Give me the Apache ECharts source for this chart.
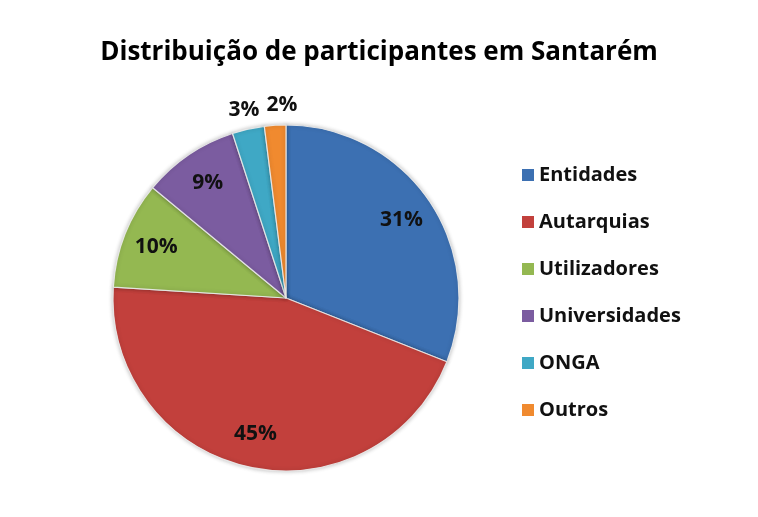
<!DOCTYPE html>
<html>
<head>
<meta charset="utf-8">
<script src="https://cdn.jsdelivr.net/npm/echarts@6/dist/echarts.min.js"></script>
<style>
  html, body { margin: 0; padding: 0; background: #fff; }
  #main { width: 758px; height: 517px; }
</style>
</head>
<body>
<div id="main"></div>
<script>
// dados
var categorias = ['Entidades', 'Autarquias', 'Utilizadores', 'Universidades', 'ONGA', 'Outros'];
var valores = [31, 45, 10, 9, 3, 2];
var cores = ['#3C70B2', '#C2403C', '#94B851', '#7B5CA0', '#3FA8C5', '#F08A2F'];

var chart = echarts.init(document.getElementById('main'));

var fonte = '"Open Sans", Lato, sans-serif';
var centro = [286, 298];

function dados(transparente) {
    var arr = [];
    for (var i = 0; i < categorias.length; i++) {
        arr.push({
            name: categorias[i],
            value: valores[i],
            itemStyle: transparente ? { color: 'rgba(0,0,0,0)', borderWidth: 0 } : { color: cores[i] }
        });
    }
    return arr;
}

// rótulos dentro (fatias grandes) e fora (pequenas)
function dadosRotulos(grande) {
    var arr = dados(true);
    for (var i = 0; i < arr.length; i++) {
        arr[i].label = { show: grande ? valores[i] >= 5 : valores[i] < 5 };
    }
    // o rótulo "2%" fica um pouco à direita no original
    if (!grande) arr[5].label.offset = [8, 0];
    return arr;
}

var rotulo = {
    position: 'inside',
    formatter: '{c}%',
    color: '#111',
    fontFamily: fonte,
    fontWeight: 'bold',
    fontSize: 21
};

chart.setOption({
    backgroundColor: '#fff',
    title: {
        text: 'Distribuição de participantes em Santarém',
        left: 'center',
        top: 35,
        textStyle: {
            fontFamily: fonte,
            fontWeight: 'bold',
            fontSize: 26,
            color: '#000'
        }
    },
    legend: {
        orient: 'vertical',
        left: 517,
        top: 160,
        itemWidth: 12,
        itemHeight: 12,
        itemGap: 27,
        itemStyle: { borderWidth: 0 },
        icon: 'rect',
        data: categorias,
        textStyle: {
            fontFamily: fonte,
            fontWeight: 'bold',
            fontSize: 20,
            lineHeight: 20,
            color: '#111'
        }
    },
    color: cores,
    series: [{
        name: 'Participantes',
        type: 'pie',
        center: centro,
        radius: 173,
        startAngle: 90,
        clockwise: true,
        silent: true,
        label: { show: false },
        labelLine: { show: false },
        itemStyle: {
            borderColor: 'rgba(235,235,235,0.9)',
            borderWidth: 1.2,
            shadowBlur: 4,
            shadowColor: 'rgba(0,0,0,0.25)'
        },
        data: dados(false)
    }, {
        name: 'rotulos1',
        type: 'pie',
        center: centro,
        radius: [100, 173],
        startAngle: 90,
        silent: true,
        label: rotulo,
        labelLine: { show: false },
        data: dadosRotulos(true)
    }, {
        name: 'rotulos2',
        type: 'pie',
        center: centro,
        radius: [170, 210],
        startAngle: 90,
        silent: true,
        label: rotulo,
        labelLine: { show: false },
        data: dadosRotulos(false)
    }]
});
</script>
</body>
</html>
